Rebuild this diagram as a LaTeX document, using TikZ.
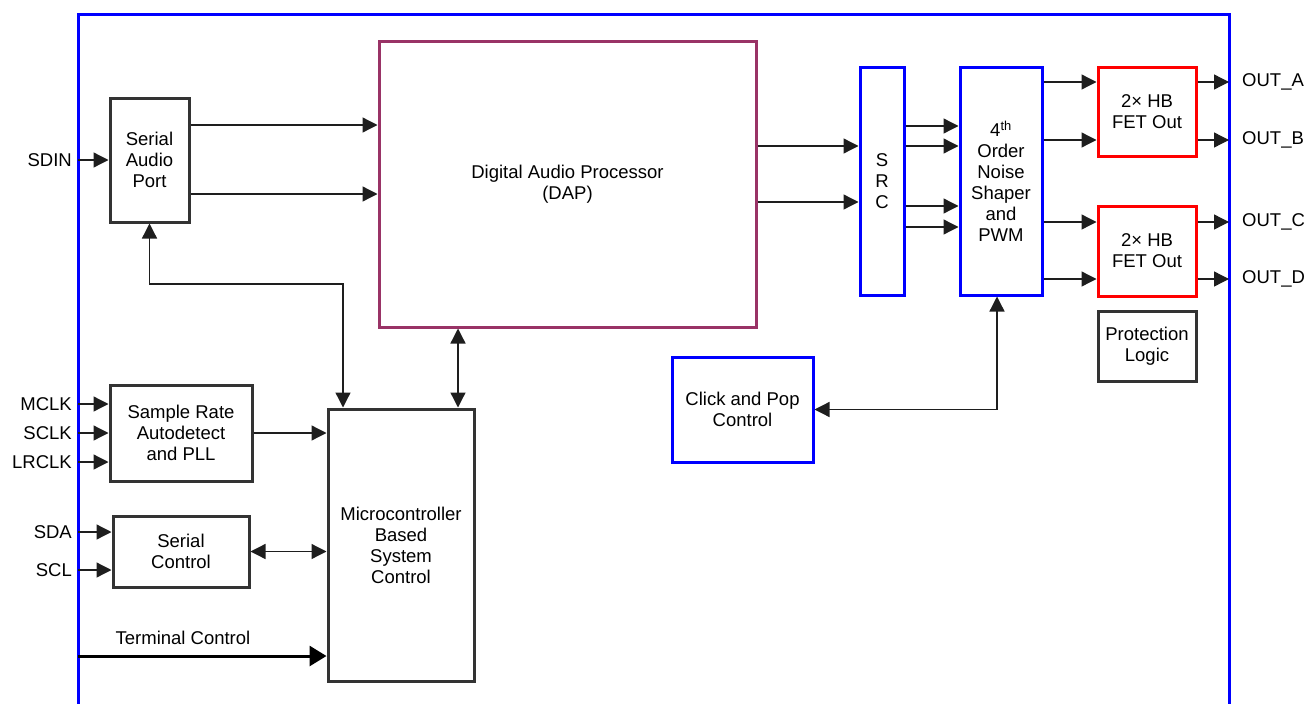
\documentclass[tikz,border=0pt]{standalone}
\usepackage{fontspec}
\setmainfont{Liberation Sans}
\usetikzlibrary{arrows.meta}
\definecolor{dapred}{RGB}{153,51,102}
\definecolor{boxgray}{RGB}{51,51,51}
\definecolor{wirecol}{RGB}{30,30,30}
\begin{document}
\begin{tikzpicture}[x=1pt, y=-1pt,
    >={Triangle[length=15pt,width=15pt]},
    every node/.style={font=\fontsize{18.5}{21}\selectfont, inner sep=0pt, align=center},
    blk/.style={draw=boxgray, line width=3pt, fill=white},
    wire/.style={draw=wirecol, line width=1.3pt},
    pin/.style={anchor=east, inner xsep=6pt},
    pout/.style={anchor=west, inner xsep=13pt}]
    \useasboundingbox (0,0) rectangle (1307,704);
    \draw[blue, line width=3pt] (78,704) -- (78,14) -- (1229,14) -- (1229,704);
    \node[blk, minimum width=79, minimum height=124] (sap) at (149.5,160) {Serial\\Audio\\Port};
    \node[blk, draw=dapred, minimum width=377, minimum height=286] (dap) at (567.5,184) {Digital Audio Processor\\(DAP)};
    \node[blk, draw=blue, minimum width=44, minimum height=228] (src) at (882,181) {S\\R\\C};
    \node[blk, draw=blue, minimum width=82, minimum height=228] (ns) at (1001,181) {4\textsuperscript{th}\\Order\\Noise\\Shaper\\and\\PWM};
    \node[blk, draw=red, minimum width=98, minimum height=89] (fetab) at (1147,111.5) {2× HB\\FET Out};
    \node[blk, draw=red, minimum width=98, minimum height=90] (fetcd) at (1147,251) {2× HB\\FET Out};
    \node[blk, minimum width=98, minimum height=70] (prot) at (1147,346) {Protection\\Logic};
    \node[blk, draw=blue, minimum width=141, minimum height=105] (click) at (742.5,409.5) {Click and Pop\\Control};
    \node[blk, minimum width=142, minimum height=96] (sra) at (181,433) {Sample Rate\\Autodetect\\and PLL};
    \node[blk, minimum width=136, minimum height=71] (serctl) at (181,551.5) {Serial\\Control};
    \node[blk, minimum width=146, minimum height=272] (mcu) at (401,545) {Microcontroller\\Based\\System\\Control};
    \foreach \name/\y/\dst in {SDIN/160/sap, MCLK/404/sra, SCLK/433/sra, LRCLK/462/sra, SDA/532/serctl, SCL/570/serctl} {
        \node[pin] (in\name) at (78,\y) {\name};
        \draw[wire, ->] (in\name.east) -- (\dst.west |- in\name.east);
    }
    \foreach \name/\y/\from in {A/82/fetab, B/140/fetab, C/222/fetcd, D/279/fetcd} {
        \node[pout] (out\name) at (1229,\y) {OUT\_\name};
        \draw[wire, ->] (\from.east |- out\name.west) -- (out\name.west);
        \draw[wire, ->] (ns.east |- out\name.west) -- (\from.west |- out\name.west);
    }
    \foreach \y in {125,194} \draw[wire, ->] (sap.east |- 0,\y) -- (dap.west |- 0,\y);
    \foreach \y in {146,202} \draw[wire, ->] (dap.east |- 0,\y) -- (src.west |- 0,\y);
    \foreach \y in {126,146,206,227} \draw[wire, ->] (src.east |- 0,\y) -- (ns.west |- 0,\y);
    \draw[wire, ->] (sra.east) -- (mcu.west |- sra.east);
    \draw[wire, <->] (serctl.east) -- (mcu.west |- serctl.east);
    \draw[wire, <->] (sap.south) |- (343,284) -- (343,0 |- mcu.north);
    \draw[wire, <->] (458,0 |- dap.south) -- (458,0 |- mcu.north);
    \draw[wire, <->] (click.east) -| (997,0 |- ns.south);
    \coordinate (tcin) at (78,656);
    \draw[black, line width=3pt, -{Triangle[length=17pt,width=20pt]}] (tcin) -- (mcu.west |- tcin);
    \node (tclbl) at (183,638) {Terminal Control};
\end{tikzpicture}
\end{document}
